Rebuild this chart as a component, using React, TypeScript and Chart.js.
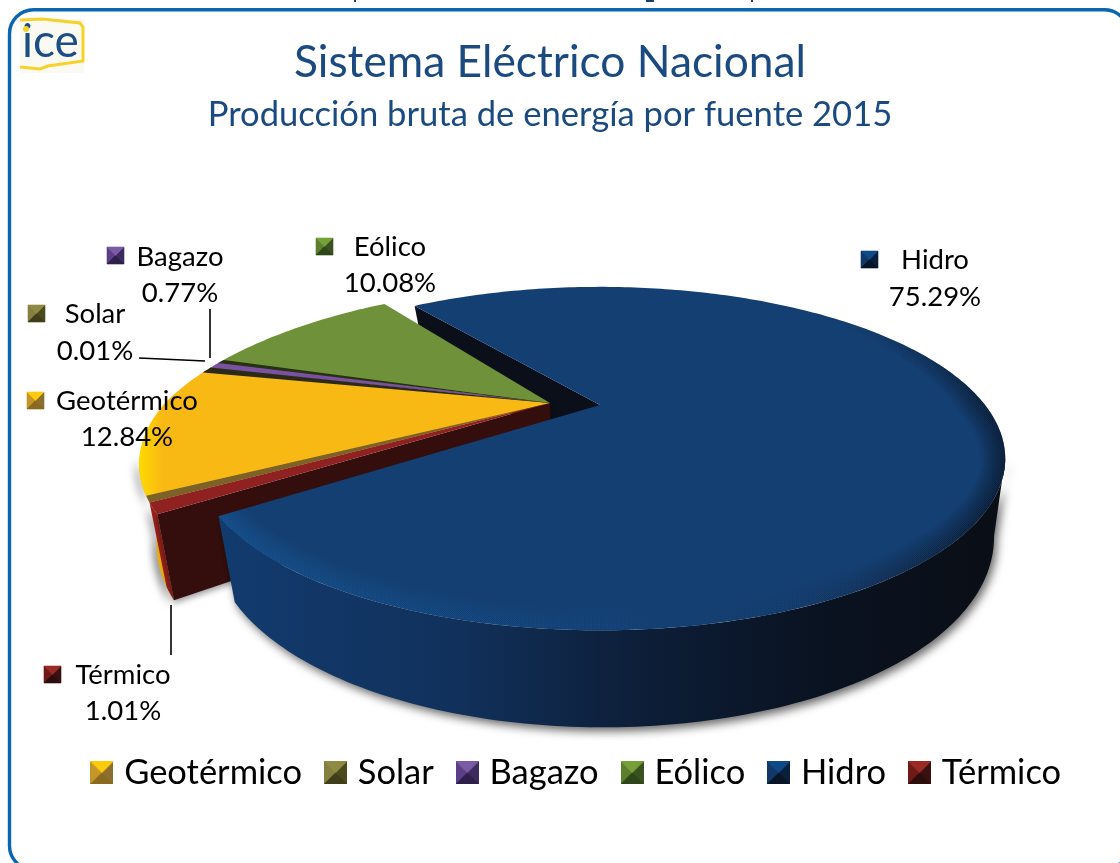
import React, { useEffect, useRef } from "react";
import { Chart, registerables } from "chart.js";

Chart.register(...registerables);

const categories = ["Geotérmico", "Solar", "Bagazo", "Eólico", "Hidro", "Térmico"];
const shares = [12.84, 0.01, 0.77, 10.08, 75.29, 1.01];
const titleText = "Sistema Eléctrico Nacional";
const subtitleText = "Producción bruta de energía por fuente 2015";

const FONT = "Lato, 'Open Sans', sans-serif";
const P = 0.312, A = 385, B = 155;
const toRad = (d: number) => (d * Math.PI) / 180;

type Centre = { x: number; y: number; shearUp: number; shearDown: number };
const HIDRO_C: Centre = { x: 600, y: 405, shearUp: 0, shearDown: 0 };
const REST_C: Centre = { x: 550, y: 403, shearUp: -0.2, shearDown: -0.1 };

const top = (a: number, c: Centre) => {
  const X = Math.cos(a), Z = Math.sin(a), w = 1 / (1 - P * Z);
  const dy = B * Z * w;
  return { x: c.x + A * X * w + (Z < 0 ? c.shearUp : c.shearDown) * dy, y: c.y + dy, Z };
};
const down = (p: { x: number; y: number; Z: number }, c: Centre) => ({
  x: c.x + (p.x - c.x) * 0.965 + 3,
  y: p.y + 70 + 27 * p.Z,
});

const rim = (a0: number, a1: number, c: Centre) => {
  const n = Math.max(2, Math.ceil(Math.abs(a1 - a0) / toRad(1)));
  const pts = [];
  for (let i = 0; i <= n; i++) pts.push(top(a0 + ((a1 - a0) * i) / n, c));
  return pts;
};

const poly = (ctx: CanvasRenderingContext2D, pts: { x: number; y: number }[]) => {
  ctx.beginPath();
  pts.forEach((p, i) => (i ? ctx.lineTo(p.x, p.y) : ctx.moveTo(p.x, p.y)));
  ctx.closePath();
};
const wedge = (ctx: CanvasRenderingContext2D, a0: number, a1: number, c: Centre, fill: any) => {
  poly(ctx, [{ x: c.x, y: c.y }, ...rim(a0, a1, c)]);
  ctx.fillStyle = fill;
  ctx.fill();
};
const wallBand = (ctx: CanvasRenderingContext2D, a0: number, a1: number, c: Centre, fill: any) => {
  const t = rim(a0, a1, c);
  poly(ctx, [...t, ...t.slice().reverse().map((p) => down(p, c))]);
  ctx.fillStyle = fill;
  ctx.fill();
};

const swatchColours: Record<string, string[]> = {
  Geotérmico: ["#fbcb0c", "#c4962a", "#8c6f2f", "#8a6a1e"],
  Solar: ["#8f8a44", "#85803f", "#4b4a1f", "#3f3e18"],
  Bagazo: ["#7b5aa6", "#5a3f86", "#3d2a5f", "#2e1f4a"],
  "Eólico": ["#76a03a", "#5c7f2e", "#3a5220", "#2e4618"],
  Hidro: ["#0f4a87", "#12386a", "#0a1f3a", "#071526"],
  "Térmico": ["#9b2a27", "#6e1a18", "#3a1010", "#2d0d0c"],
};
const paintSwatch = (ctx: CanvasRenderingContext2D, name: string, x: number, y: number, s: number) => {
  const col = swatchColours[name];
  const m = { x: x + s / 2, y: y + s / 2 };
  const c = [{ x, y }, { x: x + s, y }, { x: x + s, y: y + s }, { x, y: y + s }];
  ctx.fillStyle = col[1];
  ctx.fillRect(x, y, s, s);
  [[3, 0, 1], [1, 2, 2], [2, 3, 3], [0, 1, 0]].forEach(([i, j, k]) => {
    poly(ctx, [c[i], c[j], m]);
    ctx.fillStyle = col[k];
    ctx.strokeStyle = col[k];
    ctx.lineWidth = 0.6;
    ctx.fill();
    ctx.stroke();
  });
};
const swatchImage = (name: string, s: number) => {
  const cv = document.createElement("canvas");
  cv.width = s;
  cv.height = s;
  paintSwatch(cv.getContext("2d")!, name, 0, 0, s);
  return cv;
};

const labelSpots = [
  { i: 0, mx: 27, my: 392, cx: 127, y1: 401, y2: 437 },
  { i: 1, mx: 28, my: 305, cx: 95, y1: 314, y2: 351 },
  { i: 2, mx: 107, my: 247, cx: 180, y1: 257, y2: 293 },
  { i: 3, mx: 316, my: 238, cx: 390, y1: 247, y2: 283 },
  { i: 4, mx: 861, my: 251, cx: 935, y1: 260, y2: 297 },
  { i: 5, mx: 44, my: 666, cx: 123, y1: 675, y2: 711 },
];
const leaders = [
  [210, 309, 210, 358],
  [139, 358, 205, 361],
  [171, 605, 171, 655],
];

const pie3d = {
  id: "pie3d",
  afterLayout(chart: any) {
    chart.boxes.forEach((b: any) => {
      if (b !== chart.legend && b.position === "top") {
        b.left -= 10;
        b.right -= 10;
      }
    });
    chart.legend.left += 19;
    chart.legend.right += 19;
  },
  beforeDraw(chart: any) {
    const ctx: CanvasRenderingContext2D = chart.ctx;
    ctx.save();
    ctx.fillStyle = "#fff";
    ctx.fillRect(0, 0, 1120, 863);
    // frame
    ctx.strokeStyle = "#0b66b2";
    ctx.lineWidth = 3.4;
    ctx.beginPath();
    ctx.roundRect(9.5, 9.7, 1119, 860, 24);
    ctx.stroke();
    // logo
    ctx.save();
    ctx.filter = "blur(0.7px)";
    ctx.fillStyle = "#fbfaf2";
    ctx.fillRect(20, 19, 64, 54);
    ctx.beginPath();
    ctx.moveTo(20, 20);
    ctx.lineTo(42, 19);
    ctx.lineTo(80, 23);
    ctx.lineTo(83, 27);
    ctx.lineTo(83, 61);
    ctx.lineTo(48, 66);
    ctx.lineTo(40, 69);
    ctx.lineTo(20, 67);
    ctx.strokeStyle = "#f6d22a";
    ctx.lineWidth = 3;
    ctx.stroke();
    ctx.fillStyle = "#1c4e86";
    ctx.font = `46px ${FONT}`;
    ctx.textAlign = "left";
    ctx.textBaseline = "alphabetic";
    ctx.fillText("ice", 22, 57);
    ctx.fillStyle = "#f6d22a";
    ctx.beginPath();
    ctx.arc(26, 29, 3, 0, Math.PI * 2);
    ctx.fill();
    ctx.restore();
    ctx.restore();
  },
  beforeDatasetDraw(chart: any) {
    const ctx: CanvasRenderingContext2D = chart.ctx;
    const arcs = chart.getDatasetMeta(0).data;
    const geo = arcs[0], sol = arcs[1], bag = arcs[2], eol = arcs[3], hid = arcs[4], ter = arcs[5];
    const d1 = toRad(1);
    ctx.save();

    // far cut face of Hidro
    {
      const c = HIDRO_C;
      const p = top(hid.startAngle, c);
      const apex = { x: c.x, y: c.y, Z: 0 };
      poly(ctx, [p, apex, down(apex, c), down(p, c)]);
      ctx.fillStyle = "#0a0f1a";
      ctx.fill();
    }

    // rest of the pie: walls
    {
      const c = REST_C;
      const p = top(ter.startAngle, c);
      const apex = { x: c.x, y: c.y, Z: 0 };
      ctx.save();
      ctx.shadowColor = "rgba(0,0,0,0.55)";
      ctx.shadowBlur = 9;
      ctx.shadowOffsetX = -3;
      ctx.shadowOffsetY = 4;
      wallBand(ctx, ter.startAngle, toRad(162), c, "#e8ae10");
      ctx.restore();
      wallBand(ctx, ter.startAngle, ter.endAngle, c, "#98201f");
      ctx.save();
      ctx.shadowColor = "rgba(0,0,0,0.4)";
      ctx.shadowBlur = 6;
      ctx.shadowOffsetY = 3;
      poly(ctx, [apex, p, down(p, c), down(apex, c)]);
      ctx.fillStyle = "#340e0c";
      ctx.fill();
      ctx.restore();

      // tops
      const yg = ctx.createLinearGradient(138, 0, 162, 0);
      yg.addColorStop(0, "#ffdc00");
      yg.addColorStop(1, "#f9b914");
      wedge(ctx, geo.startAngle, geo.endAngle, c, yg);
      wedge(ctx, geo.startAngle, geo.startAngle + 2 * d1, c, "#7a6228");
      wedge(ctx, bag.startAngle, bag.endAngle, c, "#7b52a0");
      wedge(ctx, sol.startAngle - 1.8 * d1, bag.startAngle + 0.3 * d1, c, "#2b2a18");
      wedge(ctx, eol.startAngle, eol.endAngle, c, "#6f9139");
      wedge(ctx, eol.startAngle - 0.4 * d1, eol.startAngle + 1 * d1, c, "#263012");
      wedge(ctx, ter.startAngle, ter.endAngle, c, "#8f2120");
    }

    // Hidro wall with shadow
    {
      const c = HIDRO_C;
      const t = rim(hid.endAngle, toRad(18), c);
      const g = ctx.createLinearGradient(220, 0, 1005, 0);
      g.addColorStop(0, "#123b6e");
      g.addColorStop(0.3, "#11315c");
      g.addColorStop(0.52, "#0d1f3a");
      g.addColorStop(0.75, "#0a1322");
      g.addColorStop(1, "#0a0e15");
      ctx.save();
      ctx.shadowColor = "rgba(0,0,0,0.6)";
      ctx.shadowBlur = 10;
      ctx.shadowOffsetX = 3;
      ctx.shadowOffsetY = 4;
      poly(ctx, [...t, ...t.slice().reverse().map((p) => down(p, c))]);
      ctx.fillStyle = g;
      ctx.fill();
      ctx.restore();

      // top
      wedge(ctx, hid.startAngle, hid.endAngle, c, "#143f72");
      ctx.save();
      poly(ctx, [{ x: c.x, y: c.y }, ...rim(hid.startAngle, hid.endAngle, c)]);
      ctx.clip();
      const b = ctx.createLinearGradient(220, 0, 1005, 0);
      b.addColorStop(0, "rgba(25,100,170,0.7)");
      b.addColorStop(0.5, "rgba(20,80,140,0.3)");
      b.addColorStop(0.72, "rgba(12,40,70,0.2)");
      b.addColorStop(0.88, "rgba(6,14,26,0.6)");
      b.addColorStop(1, "rgba(4,8,16,1)");
      ctx.strokeStyle = b;
      ctx.globalAlpha = 0.055;
      ctx.lineCap = "butt";
      for (let i = 0; i < 14; i++) {
        const pts = rim(toRad(-50 + i * 3.5), hid.endAngle, c);
        ctx.beginPath();
        pts.forEach((p, k) => (k ? ctx.lineTo(p.x, p.y) : ctx.moveTo(p.x, p.y)));
        ctx.lineWidth = 3 + i * 3.5;
        ctx.stroke();
      }
      ctx.restore();
    }
    ctx.restore();
    return false;
  },
  afterDraw(chart: any) {
    const ctx: CanvasRenderingContext2D = chart.ctx;
    ctx.save();
    // the line cut off above the frame
    ctx.fillStyle = "#17406f";
    [[354, 0, 2, 2], [646, 0, 8, 2], [751, 0, 2, 2]].forEach(([x, y, w, h]) => ctx.fillRect(x, y, w, h));
    ctx.strokeStyle = "#000";
    ctx.lineWidth = 1.6;
    leaders.forEach(([x0, y0, x1, y1]) => {
      ctx.beginPath();
      ctx.moveTo(x0, y0);
      ctx.lineTo(x1, y1);
      ctx.stroke();
    });
    ctx.font = `27.5px ${FONT}`;
    ctx.textAlign = "center";
    ctx.textBaseline = "middle";
    labelSpots.forEach((l) => {
      paintSwatch(ctx, categories[l.i], l.mx, l.my, 17);
      ctx.fillStyle = "#000";
      ctx.fillText(categories[l.i], l.cx, l.y1);
      ctx.fillText(shares[l.i].toFixed(2) + "%", l.cx, l.y2);
    });
    ctx.restore();
  },
};

export default function App() {
  const ref = useRef<HTMLCanvasElement>(null);
  useEffect(() => {
    const chart = new Chart(ref.current!, {
      type: "pie",
      data: {
        labels: categories,
        datasets: [{ data: shares, backgroundColor: ["#f9b914", "#8f8a44", "#7b52a0", "#6f9139", "#143f72", "#8f2120"], borderWidth: 0 }],
      },
      options: {
        responsive: false,
        animation: false,
        rotation: -122.3,
        layout: { padding: { top: 36.4, bottom: 63, left: 0, right: 0 } },
        plugins: {
          tooltip: { enabled: false },
          title: {
            display: true,
            text: titleText,
            color: "#1b4a80",
            font: { family: FONT, size: 44.3, weight: "normal" },
            padding: { top: 0, bottom: 5 },
          },
          subtitle: {
            display: true,
            text: subtitleText,
            color: "#1b4a80",
            font: { family: FONT, size: 34.6, weight: "normal" },
            padding: { top: 0, bottom: 0 },
          },
          legend: {
            position: "bottom",
            labels: {
              usePointStyle: true,
              pointStyleWidth: 10,
              padding: 28.5,
              color: "#000",
              font: { family: FONT, size: 34.5 },
              generateLabels: () =>
                categories.map((name, i) => ({
                  text: name,
                  index: i,
                  fontColor: "#000",
                  lineWidth: 0,
                  pointStyle: swatchImage(name, 23),
                })) as any,
            },
          },
        },
      },
      plugins: [pie3d as any],
    } as any);
    return () => chart.destroy();
  }, []);
  return (
    <div style={{ position: "absolute", left: 0, top: 0, width: 1120, height: 863 }}>
      <canvas ref={ref} width={1120} height={863} style={{ display: "block" }} />
    </div>
  );
}
